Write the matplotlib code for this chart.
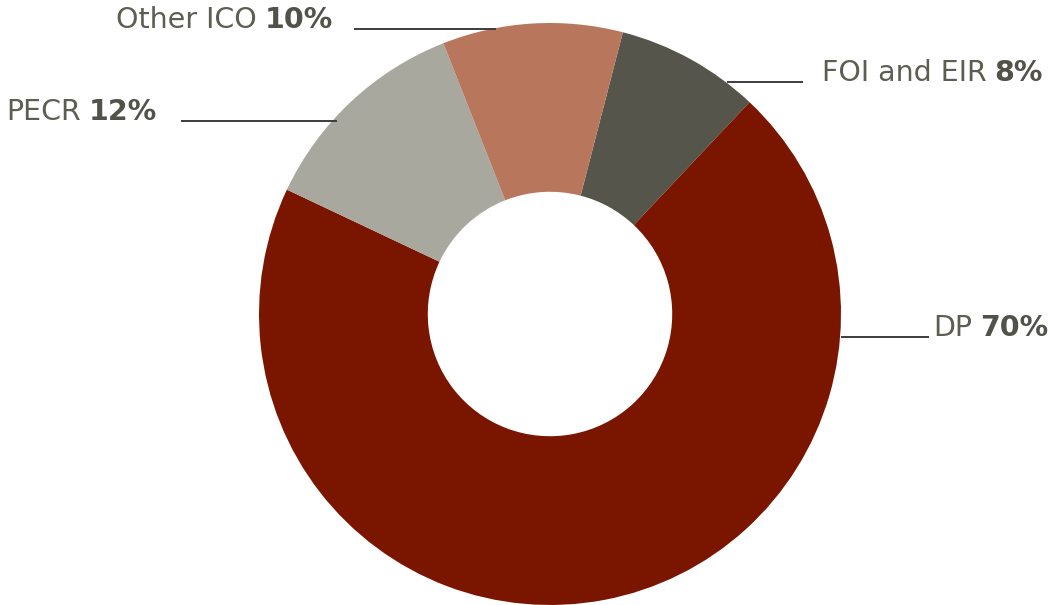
import matplotlib
matplotlib.use("Agg")
import matplotlib.pyplot as plt
import numpy as np

# ---- Data ----
labels = ["FOI and EIR", "DP", "PECR", "Other ICO"]
shares = [8, 70, 12, 10]
colors = ["#55554b", "#7a1600", "#a8a89f", "#b8775d"]

# ---- Layout (pixel space, y up) ----
W, H = 1051, 605
cx, cy = 550, 291
R = 291
hole = 0.42

# label baseline (px from top), text anchor x, side, gap between line and text
label_pos = {
    "FOI and EIR": (82, 822, "right", 20),
    "DP": (337, 933, "right", 5),
    "PECR": (121, 157, "left", 25),
    "Other ICO": (29, 333, "left", 22),
}

text_col = "#5d5d52"
bold_col = "#52524a"
line_col = "#3c3c3c"
fs = 20.5

fig = plt.figure(figsize=(W / 100, H / 100), dpi=100)
ax = fig.add_axes([0, 0, 1, 1])

ax.pie(shares, colors=colors, startangle=75.5, counterclock=False,
       center=(cx, cy), radius=R,
       wedgeprops=dict(width=R * (1 - hole), linewidth=0))

ax.set_xlim(0, W)
ax.set_ylim(0, H)
ax.set_aspect("equal")
ax.axis("off")

renderer = fig.canvas.get_renderer()
gap = 8

for name, pct in zip(labels, shares):
    ytop, tx, side, lgap = label_pos[name]
    y = H - ytop
    dy = y - cy
    dx = np.sqrt(max(R**2 - dy**2, 0))
    if side == "right":
        edge = cx + dx
        t1 = ax.text(tx, y + 1, name, ha="left", va="baseline",
                     fontsize=fs, color=text_col)
        bb = t1.get_window_extent(renderer)
        ax.text(bb.x1 + gap, y + 1, f"{pct}%", ha="left", va="baseline",
                fontsize=fs, color=bold_col, fontweight="bold")
        ax.plot([edge + 2, tx - lgap], [y, y], color=line_col, lw=1.4)
    else:
        edge = cx - dx
        t2 = ax.text(tx, y + 1, f"{pct}%", ha="right", va="baseline",
                     fontsize=fs, color=bold_col, fontweight="bold")
        bb = t2.get_window_extent(renderer)
        ax.text(bb.x0 - gap, y + 1, name, ha="right", va="baseline",
                fontsize=fs, color=text_col)
        ax.plot([tx + lgap, edge + 4], [y, y], color=line_col, lw=1.4)

fig.savefig("out.png", dpi=100)
